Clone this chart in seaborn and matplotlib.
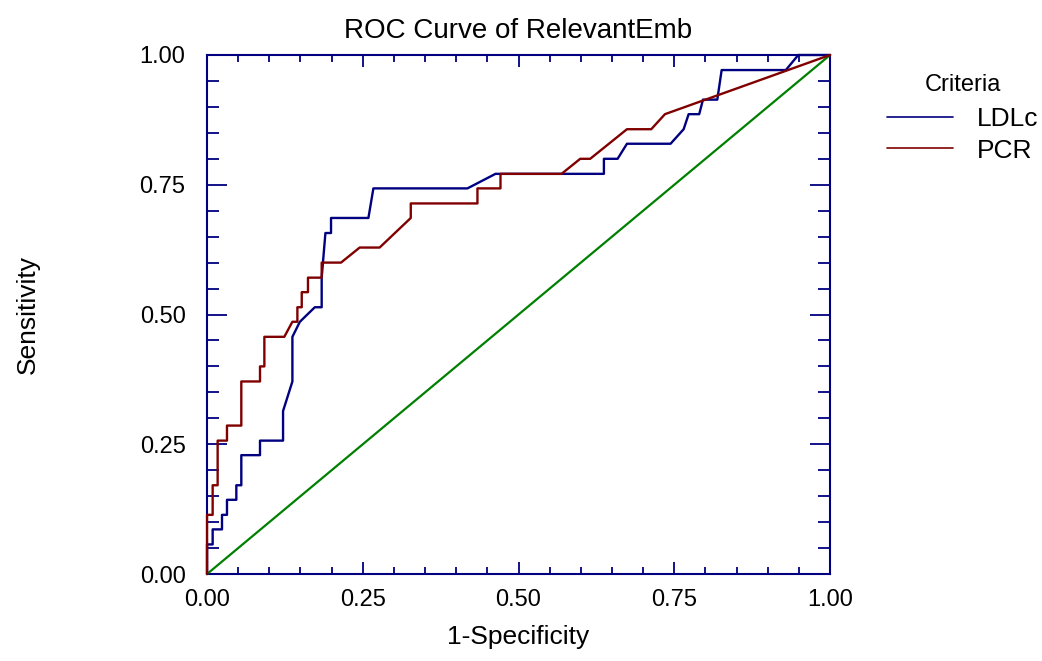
import matplotlib

matplotlib.use("Agg")
import matplotlib.pyplot as plt
import pandas as pd
import seaborn as sns
from matplotlib.ticker import FormatStrFormatter, MultipleLocator

# ROC points (1-specificity, sensitivity)
ldlc_fpr = [0.0, 0.0, 0.009, 0.009, 0.024, 0.024, 0.032, 0.032, 0.047, 0.047,
            0.055, 0.055, 0.085, 0.085, 0.122, 0.122, 0.137, 0.137, 0.149, 0.173,
            0.184, 0.184, 0.190, 0.199, 0.199, 0.259, 0.267, 0.418, 0.463, 0.637,
            0.637, 0.659, 0.674, 0.744, 0.765, 0.773, 0.790, 0.796, 0.819, 0.826,
            0.929, 0.949, 1.0]
ldlc_tpr = [0.0, 0.057, 0.057, 0.086, 0.086, 0.114, 0.114, 0.143, 0.143, 0.171,
            0.171, 0.229, 0.229, 0.257, 0.257, 0.314, 0.371, 0.457, 0.486, 0.514,
            0.514, 0.571, 0.657, 0.657, 0.686, 0.686, 0.743, 0.743, 0.771, 0.771,
            0.800, 0.800, 0.829, 0.829, 0.857, 0.886, 0.886, 0.914, 0.914, 0.971,
            0.971, 1.0, 1.0]

pcr_fpr = [0.0, 0.0, 0.009, 0.009, 0.017, 0.017, 0.032, 0.032, 0.055, 0.055,
           0.085, 0.085, 0.092, 0.092, 0.124, 0.137, 0.145, 0.145, 0.152, 0.152,
           0.162, 0.162, 0.184, 0.184, 0.215, 0.245, 0.277, 0.327, 0.327, 0.434,
           0.434, 0.471, 0.471, 0.569, 0.599, 0.615, 0.674, 0.713, 0.735, 1.0]
pcr_tpr = [0.0, 0.114, 0.114, 0.171, 0.171, 0.257, 0.257, 0.286, 0.286, 0.371,
           0.371, 0.400, 0.400, 0.457, 0.457, 0.486, 0.486, 0.514, 0.514, 0.543,
           0.543, 0.571, 0.571, 0.600, 0.600, 0.629, 0.629, 0.686, 0.714, 0.714,
           0.743, 0.743, 0.771, 0.771, 0.800, 0.800, 0.857, 0.857, 0.886, 1.0]

chance_fpr = [0.0, 1.0]
chance_tpr = [0.0, 1.0]

criteria = ["LDLc", "PCR"]
criteria_colors = ["#000080", "#800000"]

sns.set_style("white")
plt.rcParams["font.family"] = ["Liberation Sans", "DejaVu Sans"]
plt.rcParams["text.color"] = "black"
plt.rcParams["axes.labelcolor"] = "black"

df = pd.concat([
    pd.DataFrame({"fpr": ldlc_fpr, "tpr": ldlc_tpr, "criteria": criteria[0]}),
    pd.DataFrame({"fpr": pcr_fpr, "tpr": pcr_tpr, "criteria": criteria[1]}),
], ignore_index=True)

fig = plt.figure(figsize=(10.42, 6.61), dpi=100)
ax = fig.add_axes([0.1987, 0.1316, 0.5979, 0.7852])

sns.lineplot(x=chance_fpr, y=chance_tpr, color="#008000", linewidth=1.6,
             ax=ax, legend=False, zorder=3, clip_on=False)
sns.lineplot(data=df, x="fpr", y="tpr", hue="criteria", hue_order=criteria,
             palette=dict(zip(criteria, criteria_colors)), sort=False,
             estimator=None, linewidth=1.7, ax=ax, zorder=3, clip_on=False)

ax.set_xlim(0, 1)
ax.set_ylim(0, 1)
for axis in (ax.xaxis, ax.yaxis):
    axis.set_major_locator(MultipleLocator(0.25))
    axis.set_minor_locator(MultipleLocator(0.05))
    axis.set_major_formatter(FormatStrFormatter("%.2f"))

frame = "#000080"
for spine in ax.spines.values():
    spine.set_color(frame)
    spine.set_linewidth(1.5)
    spine.set_visible(True)

ax.tick_params(which="both", direction="in", top=True, right=True,
               bottom=True, left=True, color=frame, width=1.3,
               labelsize=17, labelcolor="black")
ax.tick_params(axis="x", which="major", length=8.6, pad=11)
ax.tick_params(axis="x", which="minor", length=5)
ax.tick_params(axis="y", which="major", length=14.4, pad=15.5)
ax.tick_params(axis="y", which="minor", length=8.6)

ax.set_title("ROC Curve of RelevantEmb", fontsize=20, pad=12, color="black")
ax.set_xlabel("1-Specificity", fontsize=19)
ax.set_ylabel("Sensitivity", fontsize=19)
ax.xaxis.set_label_coords(0.5, -0.098)
ax.yaxis.set_label_coords(-0.268, 0.5)

sns.move_legend(ax, "upper left", bbox_to_anchor=(0.8388, 0.908),
                bbox_transform=fig.transFigure, title="Criteria", frameon=False,
                fontsize=19, title_fontsize=17, handlelength=2.5,
                handletextpad=0.9, labelspacing=0.28, borderpad=0)
leg = ax.get_legend()
for line in leg.get_lines():
    line.set_linewidth(1.2)
leg._legend_box.sep = 8

fig.savefig("out.png", dpi=100)
